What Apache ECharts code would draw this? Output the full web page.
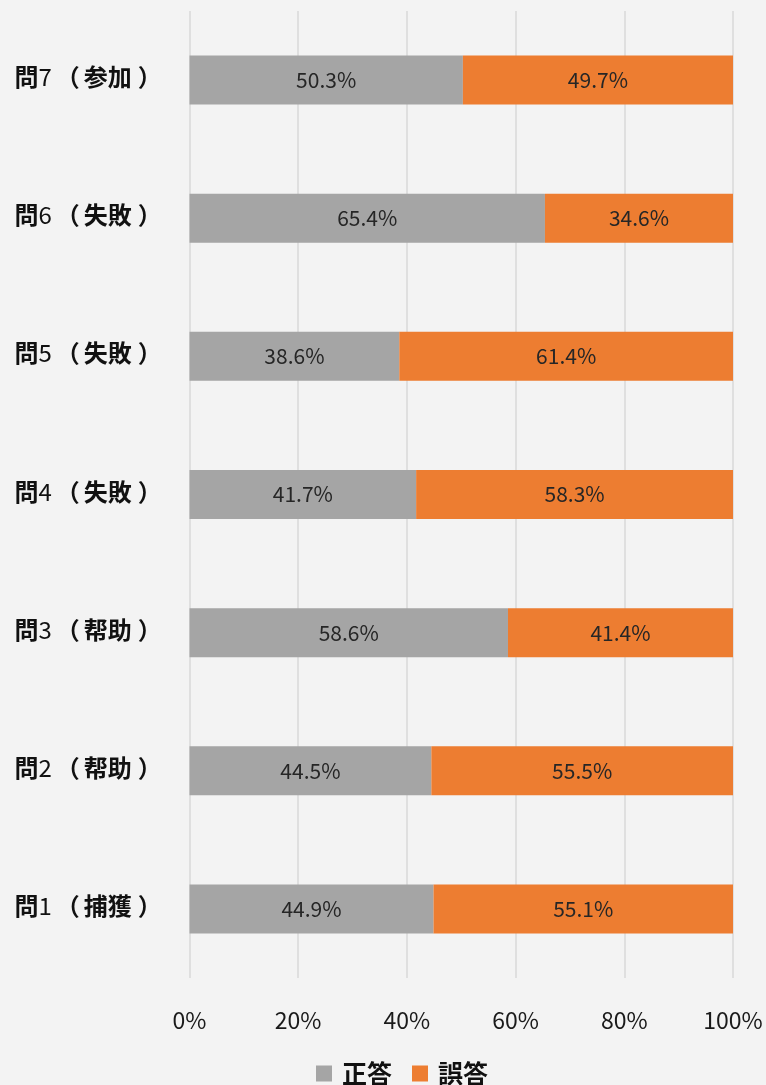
<!DOCTYPE html>
<html>
<head>
<meta charset="utf-8">
<script src="https://cdn.jsdelivr.net/npm/echarts@6/dist/echarts.min.js"></script>
<style>
    html, body { margin: 0; padding: 0; background: #f3f3f3; }
    #main { width: 766px; height: 1085px; }
</style>
</head>
<body>
<div id="main"></div>
<script>
    // 設問（下から上）
    var nums = ['1', '2', '3', '4', '5', '6', '7'];
    var themes = ['捕獲', '帮助', '帮助', '失敗', '失敗', '失敗', '参加'];
    var correct = [44.9, 44.5, 58.6, 41.7, 38.6, 65.4, 50.3];
    var wrong = [55.1, 55.5, 41.4, 58.3, 61.4, 34.6, 49.7];
    var xTicks = [0, 20, 40, 60, 80, 100];

    var categories = nums.map(function (n, i) {
        return '{b|問}{n|' + n + '}{po|（}{b|' + themes[i] + '}{pc|）}';
    });

    var jpFont = '"Noto Sans CJK JP", "Noto Sans", sans-serif';

    var option = {
        backgroundColor: '#f3f3f3',
        textStyle: { fontFamily: jpFont },
        grid: {
            left: 189.5,
            right: 33,
            top: 11,
            bottom: 107
        },
        legend: {
            bottom: -6,
            left: 311,
            itemWidth: 16,
            itemHeight: 16,
            itemGap: 20,
            icon: 'rect',
            textStyle: { fontSize: 25, fontWeight: 'bold', color: '#111', fontFamily: jpFont, padding: [0, 0, 0, 5] },
            data: ['正答', '誤答']
        },
        xAxis: {
            type: 'value',
            min: 0,
            max: 100,
            interval: 20,
            axisLine: { show: false },
            axisTick: { show: false },
            splitLine: { lineStyle: { color: '#d9d9d9', width: 1.5 } },
            axisLabel: {
                margin: 31,
                fontSize: 23,
                color: '#1a1a1a',
                formatter: function (v) { return xTicks.indexOf(v) >= 0 ? v + '%' : ''; }
            }
        },
        yAxis: {
            type: 'category',
            data: categories,
            axisLine: { show: false },
            axisTick: { show: false },
            axisLabel: {
                align: 'left',
                margin: 175,
                padding: [0, 0, 6, 0],
                rich: {
                    b: { fontSize: 24, fontWeight: 'bold', color: '#111', fontFamily: jpFont },
                    n: { fontSize: 24, color: '#111', fontFamily: jpFont },
                    po: { fontSize: 24, fontWeight: 'bold', color: '#111', fontFamily: jpFont, width: 32, align: 'right' },
                    pc: { fontSize: 24, fontWeight: 'bold', color: '#111', fontFamily: jpFont, width: 30, align: 'right' }
                }
            }
        },
        series: [
            {
                name: '正答',
                type: 'bar',
                stack: 'total',
                barWidth: 49,
                data: correct,
                itemStyle: { color: '#a5a5a5' },
                label: {
                    show: true,
                    position: 'inside',
                    fontSize: 21,
                    color: '#262626',
                    formatter: function (p) { return p.value.toFixed(1) + '%'; }
                }
            },
            {
                name: '誤答',
                type: 'bar',
                stack: 'total',
                barWidth: 49,
                data: wrong,
                itemStyle: { color: '#ed7d31' },
                label: {
                    show: true,
                    position: 'inside',
                    fontSize: 21,
                    color: '#262626',
                    formatter: function (p) { return p.value.toFixed(1) + '%'; }
                }
            }
        ]
    };

    var myChart = echarts.init(document.getElementById('main'));
    myChart.setOption(option);
</script>
</body>
</html>
